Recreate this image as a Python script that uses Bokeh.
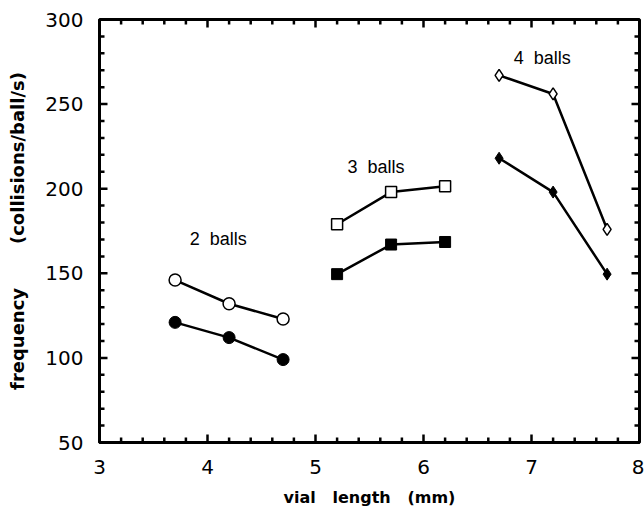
from bokeh.plotting import figure
from bokeh.models import Range1d, FixedTicker, Label
from bokeh.embed import file_html
from bokeh.resources import INLINE

# data
x2 = [3.7, 4.2, 4.7]
open2 = [146, 132, 123]
fill2 = [121, 112, 99]
x3 = [5.2, 5.7, 6.2]
open3 = [179, 198, 201.5]
fill3 = [149.5, 167, 168.5]
x4 = [6.7, 7.2, 7.7]
open4 = [267, 256, 176]
fill4 = [218, 198, 149.5]
x_ticks = [3, 4, 5, 6, 7, 8]
y_ticks = [50, 100, 150, 200, 250, 300]
x_minor = [round(3 + 0.2 * i, 2) for i in range(26)]
y_minor = list(range(50, 301, 10))
group_labels = ["2\u00a0\u00a0balls", "3\u00a0\u00a0balls", "4\u00a0\u00a0balls"]
label_x = [4.1, 5.56, 7.1]
label_y = [170, 213, 277]

NB = "\u00a0"
XMIN, XMAX, YMIN, YMAX = 3, 8, 50, 300

p = figure(width=644, height=509, output_backend="svg", toolbar_location=None,
           x_range=Range1d(XMIN, XMAX), y_range=Range1d(YMIN, YMAX),
           min_border_left=99, min_border_right=5, min_border_top=19, min_border_bottom=67)
p.grid.visible = False
p.outline_line_color = "black"
p.outline_line_width = 3
p.background_fill_color = "white"
p.border_fill_color = "white"

for ax in (p.xaxis[0], p.yaxis[0]):
    ax.major_tick_in = 0
    ax.major_tick_out = 0
    ax.minor_tick_in = 0
    ax.minor_tick_out = 0
    ax.axis_line_width = 3
    ax.axis_line_color = "black"
    ax.major_label_text_font = "DejaVu Sans"
    ax.major_label_text_font_size = "20px"
    ax.major_label_text_color = "black"
    ax.axis_label_text_font = "DejaVu Sans"
    ax.axis_label_text_font_style = "bold"
    ax.axis_label_text_color = "black"

p.xaxis.ticker = FixedTicker(ticks=x_ticks)
p.yaxis.ticker = FixedTicker(ticks=y_ticks)
p.xaxis.axis_label = "vial" + NB * 3 + "length" + NB * 3 + "(mm)"
p.yaxis.axis_label = "frequency" + NB * 7 + "(collisions/ball/s)"
p.xaxis.axis_label_text_font_size = "16px"
p.yaxis.axis_label_text_font_size = "18px"
p.xaxis.major_label_standoff = 17
p.yaxis.major_label_standoff = 16
p.xaxis.axis_label_standoff = 11
p.yaxis.axis_label_standoff = 14

# inward ticks on all four sides, from the tick lists (lengths in data units ~ 8px / 5px)
xmin_only = [v for v in x_minor if v not in x_ticks]
ymin_only = [v for v in y_minor if v not in y_ticks]
px_x = (XMAX - XMIN) / 540.0
px_y = (YMAX - YMIN) / 423.0
LM, Lm = 8, 5
tk = dict(line_color="black", line_width=2.5)
def vticks(xs, ln):
    n = len(xs)
    p.segment(x0=xs, y0=[YMIN] * n, x1=xs, y1=[YMIN + ln * px_y] * n, **tk)
    p.segment(x0=xs, y0=[YMAX] * n, x1=xs, y1=[YMAX - ln * px_y] * n, **tk)
def hticks(ys, ln):
    n = len(ys)
    p.segment(x0=[XMIN] * n, y0=ys, x1=[XMIN + ln * px_x] * n, y1=ys, **tk)
    p.segment(x0=[XMAX] * n, y0=ys, x1=[XMAX - ln * px_x] * n, y1=ys, **tk)
vticks(x_ticks, LM)
vticks(xmin_only, Lm)
hticks(y_ticks, LM)
hticks(ymin_only, Lm)

lw = 2.5
# 2 balls
p.line(x2, open2, line_color="black", line_width=lw)
p.scatter(x2, open2, marker="circle", size=12, fill_color="white", line_color="black", line_width=1.5)
p.line(x2, fill2, line_color="black", line_width=lw)
p.scatter(x2, fill2, marker="circle", size=12, fill_color="black", line_color="black")
# 3 balls
p.line(x3, open3, line_color="black", line_width=lw)
p.scatter(x3, open3, marker="square", size=11, fill_color="white", line_color="black", line_width=1.5)
p.line(x3, fill3, line_color="black", line_width=lw)
p.scatter(x3, fill3, marker="square", size=11, fill_color="black", line_color="black")
# 4 balls
p.line(x4, open4, line_color="black", line_width=lw)
p.scatter(x4, open4, marker="diamond", size=12, fill_color="white", line_color="black", line_width=1.5)
p.line(x4, fill4, line_color="black", line_width=lw)
p.scatter(x4, fill4, marker="diamond", size=12, fill_color="black", line_color="black")

for t, lx, ly in zip(group_labels, label_x, label_y):
    p.add_layout(Label(x=lx, y=ly, text=t, text_font="Liberation Sans", text_font_size="18px",
                       text_align="center", text_baseline="middle", text_color="black"))

open("out.html", "w").write(file_html(p, INLINE))
